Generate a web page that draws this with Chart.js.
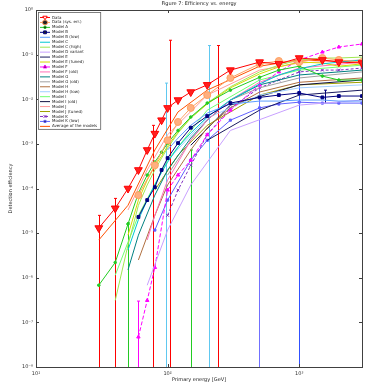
<!DOCTYPE html>
<html>
<head>
<meta charset="utf-8">
<script src="https://cdn.jsdelivr.net/npm/chart.js@4.4.0/dist/chart.umd.min.js"></script>
<style>
html, body { margin: 0; padding: 0; background: #fff; }
</style>
</head>
<body>
<canvas id="grafico" width="369" height="383"></canvas>
<script>
// Datos (eje x común, null = sin punto)
const n = null;
const energias = [30, 40, 50, 60, 70, 80, 90, 100, 120, 150, 200, 300, 500, 700, 1000, 1500, 2000, 3000];
const decadasX = [10, 100, 1000];
const decadasY = [1e-8, 1e-7, 1e-6, 1e-5, 1e-4, 1e-3, 1e-2, 1e-1, 1];

const medidas = [1.3e-5, 3.6e-5, 1.0e-4, 2.6e-4, 7.3e-4, 1.7e-3, 3.4e-3, 6.4e-3, 9.6e-3, 1.45e-2, 2.1e-2, 4.5e-2, 6.8e-2, 6.2e-2, 8.4e-2, 7.6e-2, 6.8e-2, 6.5e-2];
const medidas2 = [n, n, n, 7.1e-5, n, 3.3e-4, n, 1.2e-3, 3.1e-3, 6.4e-3, 1.24e-2, 3.0e-2, 6.2e-2, 7.2e-2, 6.8e-2, 8.4e-2, 7.6e-2, 6.8e-2];
const verde = [6.8e-7, 2.2e-6, 1.6e-5, 7.9e-5, 2.0e-4, 3.9e-4, 6.5e-4, 1.04e-3, 2.0e-3, 4.0e-3, 8.2e-3, 1.6e-2, 3.1e-2, 4.5e-2, 5.5e-2, 3.3e-2, 2.7e-2, 2.7e-2];
const marino = [n, n, n, 2.3e-5, 5.5e-5, 1.07e-4, 2.6e-4, 4.8e-4, 1.04e-3, 2.3e-3, 4.2e-3, 8.2e-3, 1.1e-2, 1.24e-2, 1.38e-2, 1.1e-2, 1.18e-2, 1.18e-2];
const azulClaro = [n, n, n, n, n, n, n, 7.3e-4, 1.35e-3, 2.6e-3, 4.9e-3, 7.8e-3, 9.1e-3, 9.1e-3, 9.6e-3, 9.6e-3, 9.1e-3, 9.1e-3];
const cian = [n, n, 4.2e-6, 2.0e-5, 5.5e-5, 1.2e-4, 2.3e-4, 3.9e-4, 8.5e-4, 1.75e-3, 4.0e-3, 9.6e-3, 2.2e-2, 3.5e-2, 4.8e-2, 6.2e-2, 6.8e-2, 7.6e-2];
const verdeClaro = [n, 3.1e-7, 5.4e-6, 4.2e-5, 1.2e-4, 2.6e-4, 4.8e-4, 8.0e-4, 1.75e-3, 3.8e-3, 8.2e-3, 1.9e-2, 4.1e-2, 5.8e-2, 7.6e-2, 8.4e-2, 8.4e-2, 8.8e-2];
const lavanda = [n, n, n, n, 6.8e-7, n, n, 1.17e-5, n, 1.2e-4, n, 2.0e-3, n, n, 7.4e-3, n, n, 9.6e-3];
const oscuro = [n, n, n, n, n, n, n, n, n, n, 1.2e-3, n, 5.7e-3, n, 1.24e-2, n, n, 1.6e-2];
const amarillo = [n, n, 9.0e-6, 5.5e-5, 1.54e-4, 3.2e-4, 5.3e-4, 8.9e-4, 1.84e-3, 3.8e-3, 7.8e-3, 1.8e-2, 3.7e-2, 5.3e-2, 6.8e-2, 6.5e-2, 5.5e-2, 6.2e-2];
const magenta = [n, n, n, 4.7e-8, 3.1e-7, 1.7e-6, n, 9.2e-5, 2.0e-4, 4.3e-4, 1.6e-3, 5.7e-3, 2.1e-2, 4.1e-2, 7.6e-2, 0.114, 0.148, 0.173];
const rosa = [n, n, n, n, 7.0e-6, 2.5e-5, n, 1.54e-4, n, 1.2e-3, 3.4e-3, 9.6e-3, 2.4e-2, n, 5.0e-2, n, n, 6.8e-2];
const turquesa = [n, n, 1.5e-6, 9.0e-6, n, 7.1e-5, n, 2.6e-4, n, 1.35e-3, 3.4e-3, 9.6e-3, 2.1e-2, n, 3.5e-2, n, n, 4.5e-2];
const gris = [n, n, n, n, n, n, n, 2.0e-4, n, 1.2e-3, 3.4e-3, 9.6e-3, 1.8e-2, n, 3.0e-2, n, n, 4.1e-2];
const marron = [n, n, n, 2.5e-6, n, 2.5e-5, n, 1.2e-4, n, 7.3e-4, 2.3e-3, 6.4e-3, 1.45e-2, n, 2.4e-2, n, n, 3.0e-2];
const celeste = [n, n, n, n, n, n, n, 4.3e-4, n, n, 3.8e-3, n, 1.24e-2, n, 1.8e-2, n, n, 2.1e-2];
const lima = [n, 1.14e-6, n, 2.5e-5, n, n, n, 4.3e-4, n, n, 5.7e-3, n, 2.7e-2, n, 4.5e-2, n, n, 5.8e-2];
const azulNoche = [n, n, n, n, n, n, n, n, n, 9.3e-4, n, 7.4e-3, n, n, 2.1e-2, n, n, 2.7e-2];
const salmon = [n, n, 3.3e-5, n, 2.6e-4, n, n, 1.6e-3, n, n, 1.24e-2, n, 4.5e-2, n, 6.5e-2, n, n, 7.6e-2];
const oliva = [n, n, n, n, n, 9.2e-5, n, n, 5.6e-4, n, 2.6e-3, n, 1.24e-2, n, 2.1e-2, n, n, 2.4e-2];
const purpura = [n, n, n, n, n, n, n, 2.5e-5, 9.2e-5, 3.3e-4, 1.6e-3, 6.4e-3, 1.8e-2, 2.7e-2, 4.1e-2, 4.5e-2, 4.5e-2, 5.0e-2];
const violeta = [n, n, n, n, n, 1.17e-5, n, 5.5e-5, n, 4.3e-4, 1.2e-3, 3.4e-3, 6.4e-3, 7.8e-3, 8.6e-3, 8.2e-3, 8.2e-3, 8.2e-3];
const naranjaRojo = [7.0e-6, n, 4.2e-5, n, n, 7.3e-4, n, n, 5.2e-3, n, 1.6e-2, n, 5.5e-2, n, 7.6e-2, n, n, 6.8e-2];

// Barras de error (0 = el límite inferior cae fuera del eje)
const errRojoX = [30, 40, 78, 104, 240];
const errRojoAlto = [2.5e-5, 6e-5, 2.6e-3, 0.21, 0.16];
const errRojoBajo = [0, 0, 0, 0, 0];
const errVerdeX = [50, 150];
const errVerdeAlto = [1.7e-5, 7.3e-4];
const errVerdeBajo = [0, 0];
const errMagentaX = [60];
const errMagentaAlto = [3e-7];
const errMagentaBajo = [0];
const errCianX = [98, 205];
const errCianAlto = [2.3e-2, 0.16];
const errCianBajo = [0, 0];
const errVioletaX = [495];
const errVioletaAlto = [2.7e-2];
const errVioletaBajo = [0];
const errAzulX = [1000, 3000];
const errAzulAlto = [4.5e-2, 0.18];
const errAzulBajo = [0, 0];
const errMarinoX = [1580];
const errMarinoAlto = [1.6e-2];
const errMarinoBajo = [8.2e-3];

const aPuntos = serie => energias.map((x, i) => ({ x: x, y: serie[i] }));

function serie(label, data, color, extra) {
    return Object.assign({
        label: label,
        data: aPuntos(data),
        borderColor: color,
        backgroundColor: color,
        borderWidth: 1,
        pointRadius: 0,
        spanGaps: true,
        tension: 0
    }, extra || {});
}

const datasets = [
    serie('Data', medidas, '#ff0000', { pointStyle: 'triangle', rotation: 180, pointRadius: 4.5, backgroundColor: '#ff2020' }),
    serie('Data (sys. err.)', medidas2, '#ffa060', { pointStyle: 'circle', pointRadius: 3.5, backgroundColor: '#ffb080' }),
    serie('Model A', verde, '#22cc22', { pointStyle: 'circle', pointRadius: 1.3 }),
    serie('Model B', marino, '#000080', { pointStyle: 'rect', pointRadius: 2 }),
    serie('Model B (low)', azulClaro, '#5a9cff'),
    serie('Model C', cian, '#00c8d0'),
    serie('Model C (high)', verdeClaro, '#a0e850'),
    serie('Model D variant', lavanda, '#c8a0ff'),
    serie('Model E', oscuro, '#1a1a60'),
    serie('Model E (tuned)', amarillo, '#d8d800'),
    serie('Model F', magenta, '#ff00ff', { borderDash: [4, 2], pointStyle: 'triangle', pointRadius: 2 }),
    serie('Model F (old)', rosa, '#ff70b8'),
    serie('Model G', turquesa, '#008080'),
    serie('Model G (old)', gris, '#a0a0a0'),
    serie('Model H', marron, '#b07040'),
    serie('Model H (low)', celeste, '#a0d0ff'),
    serie('Model I', lima, '#70ff70'),
    serie('Model I (old)', azulNoche, '#101040'),
    serie('Model J', salmon, '#ff9a9a'),
    serie('Model J (tuned)', oliva, '#a0a000'),
    serie('Model K', purpura, '#8030c0', { borderDash: [3, 2], pointStyle: 'crossRot', pointRadius: 2 }),
    serie('Model K (low)', violeta, '#6060ff', { pointStyle: 'rect', pointRadius: 1.5 }),
    serie('Average of the models', naranjaRojo, '#ff5000')
];

const barrasError = [
    { color: '#ff0000', x: errRojoX, alto: errRojoAlto, bajo: errRojoBajo },
    { color: '#22cc22', x: errVerdeX, alto: errVerdeAlto, bajo: errVerdeBajo },
    { color: '#ff00ff', x: errMagentaX, alto: errMagentaAlto, bajo: errMagentaBajo },
    { color: '#60c8f0', x: errCianX, alto: errCianAlto, bajo: errCianBajo },
    { color: '#7070ff', x: errVioletaX, alto: errVioletaAlto, bajo: errVioletaBajo },
    { color: '#3050ff', x: errAzulX, alto: errAzulAlto, bajo: errAzulBajo },
    { color: '#000080', x: errMarinoX, alto: errMarinoAlto, bajo: errMarinoBajo }
];

const superindices = { '-': '⁻', '0': '⁰', '1': '¹', '2': '²', '3': '³', '4': '⁴', '5': '⁵', '6': '⁶', '7': '⁷', '8': '⁸', '9': '⁹' };
const potencia = v => '10' + String(Math.round(Math.log10(v))).split('').map(c => superindices[c]).join('');

const fuente = '"DejaVu Sans", sans-serif';

// Barras de error dibujadas con las escalas del gráfico
const pluginErrores = {
    id: 'errores',
    beforeDatasetsDraw(chart) {
        const { ctx, chartArea, scales } = chart;
        ctx.save();
        ctx.beginPath();
        ctx.rect(chartArea.left, chartArea.top, chartArea.width, chartArea.height);
        ctx.clip();
        ctx.lineWidth = 1;
        barrasError.forEach(b => {
            ctx.strokeStyle = b.color;
            b.x.forEach((x, i) => {
                const px = Math.round(scales.x.getPixelForValue(x)) + 0.5;
                const y1 = b.bajo[i] > 0 ? scales.y.getPixelForValue(b.bajo[i]) : chartArea.bottom;
                const y2 = scales.y.getPixelForValue(b.alto[i]);
                ctx.beginPath();
                ctx.moveTo(px, y1);
                ctx.lineTo(px, y2);
                ctx.moveTo(px - 1.5, y2);
                ctx.lineTo(px + 1.5, y2);
                ctx.stroke();
            });
        });
        ctx.restore();
    }
};

// Marco, marcas hacia dentro, títulos y leyenda
const pluginMarco = {
    id: 'marco',
    afterDraw(chart) {
        const { ctx, chartArea: a, scales } = chart;
        ctx.save();
        ctx.strokeStyle = '#404040';
        ctx.lineWidth = 1;
        ctx.strokeRect(Math.round(a.left) + 0.5, Math.round(a.top) + 0.5, Math.round(a.width), Math.round(a.height));
        ctx.beginPath();
        decadasX.forEach(v => {
            const px = Math.round(scales.x.getPixelForValue(v)) + 0.5;
            ctx.moveTo(px, a.bottom); ctx.lineTo(px, a.bottom - 3);
            ctx.moveTo(px, a.top); ctx.lineTo(px, a.top + 3);
        });
        decadasY.forEach(v => {
            const py = Math.round(scales.y.getPixelForValue(v)) + 0.5;
            ctx.moveTo(a.left, py); ctx.lineTo(a.left + 3, py);
            ctx.moveTo(a.right, py); ctx.lineTo(a.right - 3, py);
        });
        ctx.stroke();

        // Títulos
        ctx.fillStyle = '#222';
        ctx.font = '5px ' + fuente;
        ctx.textAlign = 'center';
        ctx.textBaseline = 'middle';
        ctx.fillText('Figure 7: Efficiency vs. energy', (a.left + a.right) / 2, 4);
        ctx.fillText('Primary energy [GeV]', (a.left + a.right) / 2, 380);
        ctx.translate(11, (a.top + a.bottom) / 2);
        ctx.rotate(-Math.PI / 2);
        ctx.fillText('Detection efficiency', 0, 0);
        ctx.restore();

        // Leyenda
        ctx.save();
        const x0 = a.left + 2, y0 = a.top + 2, paso = 4.95;
        ctx.font = '4px ' + fuente;
        let ancho = 0;
        chart.data.datasets.forEach(d => { ancho = Math.max(ancho, ctx.measureText(d.label).width); });
        const w = 14 + ancho + 3, h = paso * chart.data.datasets.length + 3;
        ctx.fillStyle = '#fff';
        ctx.fillRect(x0, y0, w, h);
        ctx.strokeStyle = '#606060';
        ctx.lineWidth = 0.8;
        ctx.strokeRect(x0 + 0.5, y0 + 0.5, w, h);
        chart.data.datasets.forEach((d, i) => {
            const y = y0 + 3 + paso * i + paso / 2;
            ctx.strokeStyle = d.borderColor;
            ctx.lineWidth = 1;
            ctx.setLineDash(d.borderDash || []);
            ctx.beginPath();
            ctx.moveTo(x0 + 2, y); ctx.lineTo(x0 + 12, y);
            ctx.stroke();
            ctx.setLineDash([]);
            if (d.pointRadius > 0) {
                Chart.helpers.drawPoint(ctx, {
                    pointStyle: d.pointStyle, rotation: d.rotation || 0,
                    radius: Math.min(d.pointRadius, 2.5), borderWidth: 1
                }, x0 + 7, y);
                ctx.fillStyle = d.backgroundColor;
            }
            ctx.fillStyle = '#222';
            ctx.textAlign = 'left';
            ctx.textBaseline = 'middle';
            ctx.fillText(d.label, x0 + 14, y);
        });
        ctx.restore();
    }
};

const grafico = new Chart(document.getElementById('grafico').getContext('2d'), {
    type: 'line',
    data: { datasets: datasets },
    options: {
        responsive: false,
        animation: false,
        devicePixelRatio: 1,
        layout: { padding: { top: 10, right: 7, left: 0, bottom: 0 } },
        plugins: { legend: { display: false }, tooltip: { enabled: false } },
        scales: {
            x: {
                type: 'logarithmic',
                min: 10,
                max: 3000,
                afterBuildTicks: scale => { scale.ticks = decadasX.map(v => ({ value: v })); },
                afterFit: scale => { scale.height = 16; },
                grid: { drawOnChartArea: false, drawTicks: false },
                border: { display: false },
                ticks: {
                    padding: 4,
                    color: '#333',
                    font: { size: 5, family: fuente },
                    maxRotation: 0,
                    callback: v => potencia(v)
                }
            },
            y: {
                type: 'logarithmic',
                min: 1e-8,
                max: 1,
                afterBuildTicks: scale => { scale.ticks = decadasY.map(v => ({ value: v })); },
                afterFit: scale => { scale.width = 36; },
                grid: { drawOnChartArea: false, drawTicks: false },
                border: { display: false },
                ticks: {
                    padding: 3,
                    color: '#333',
                    font: { size: 5, family: fuente },
                    callback: v => potencia(v)
                }
            }
        }
    },
    plugins: [pluginErrores, pluginMarco]
});
</script>
</body>
</html>
